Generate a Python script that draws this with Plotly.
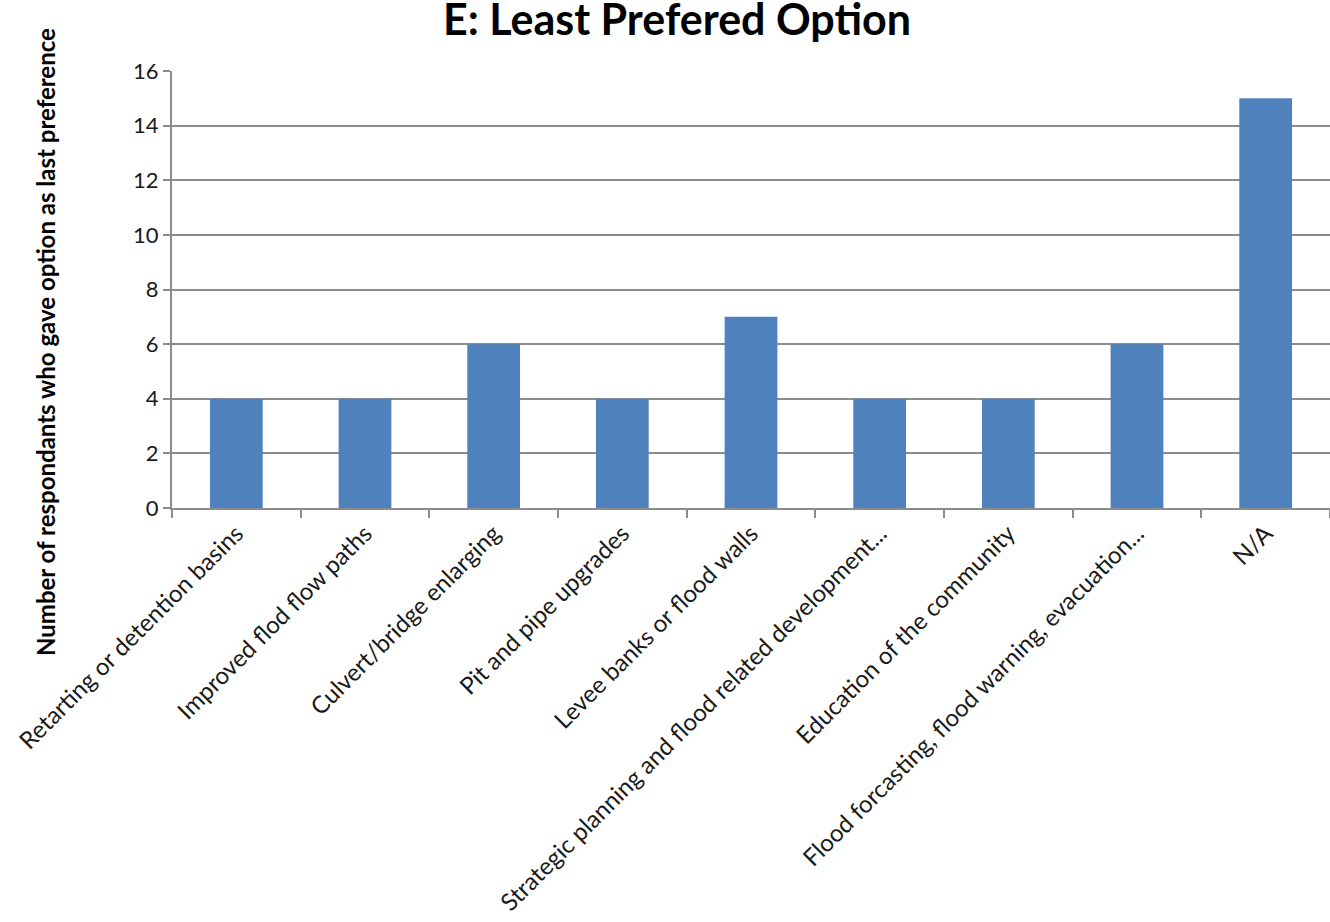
import plotly.graph_objects as go

categories = [
    "Retarting or detention basins",
    "Improved flod flow paths",
    "Culvert/bridge enlarging",
    "Pit and pipe upgrades",
    "Levee banks or flood walls",
    "Strategic planning and flood related development...",
    "Education of the community",
    "Flood forcasting, flood warning, evacuation...",
    "N/A",
]
values = [4, 4, 6, 4, 7, 4, 4, 6, 15]
y_ticks = [0, 2, 4, 6, 8, 10, 12, 14, 16]

W, H = 1330, 922
L, R, T, B = 172, 0, 71, 414
pw, ph = W - L - R, H - T - B

FONT = "Lato"

fig = go.Figure(go.Bar(
    x=categories, y=values,
    marker=dict(color="#4F81BD", line=dict(width=0)),
    width=0.41,
))

fig.update_layout(
    width=W, height=H,
    margin=dict(l=L, r=R, t=T, b=B, autoexpand=False),
    paper_bgcolor="white", plot_bgcolor="white",
    showlegend=False,
    font=dict(family=FONT, color="#1a1a1a"),
    xaxis=dict(
        showline=True, linecolor="#8c8c8c", linewidth=2,
        ticks="outside", tickson="boundaries", ticklen=8, tickcolor="#8c8c8c", tickwidth=2,
        tickangle=-45, tickfont=dict(size=24, family=FONT, color="#1a1a1a"),
        showgrid=False,
    ),
    yaxis=dict(
        range=[0, 16], tickvals=y_ticks, ticktext=[str(v) for v in y_ticks],
        showline=True, linecolor="#8c8c8c", linewidth=2,
        ticks="outside", ticklen=7, tickcolor="#8c8c8c", tickwidth=2,
        showgrid=True, gridcolor="#8c8c8c", gridwidth=2,
        zeroline=False,
        tickfont=dict(size=22, family=FONT, color="#1a1a1a"),
    ),
    annotations=[
        dict(text="<b>E: Least Prefered Option</b>", xref="paper", yref="paper",
             x=(677 - L) / pw, y=(H - B - 18) / ph, xanchor="center", yanchor="middle",
             showarrow=False, font=dict(size=43, family=FONT, color="black")),
        dict(text="<b>Number of respondants who gave option as last preference</b>",
             xref="paper", yref="paper",
             x=(45 - L) / pw, y=(H - B - 342) / ph, xanchor="center", yanchor="middle",
             textangle=-90, showarrow=False,
             font=dict(size=24, family=FONT, color="black")),
    ],
)

fig.write_html("out.html", config={"displayModeBar": False},
               post_script="document.body.style.margin='0';")
